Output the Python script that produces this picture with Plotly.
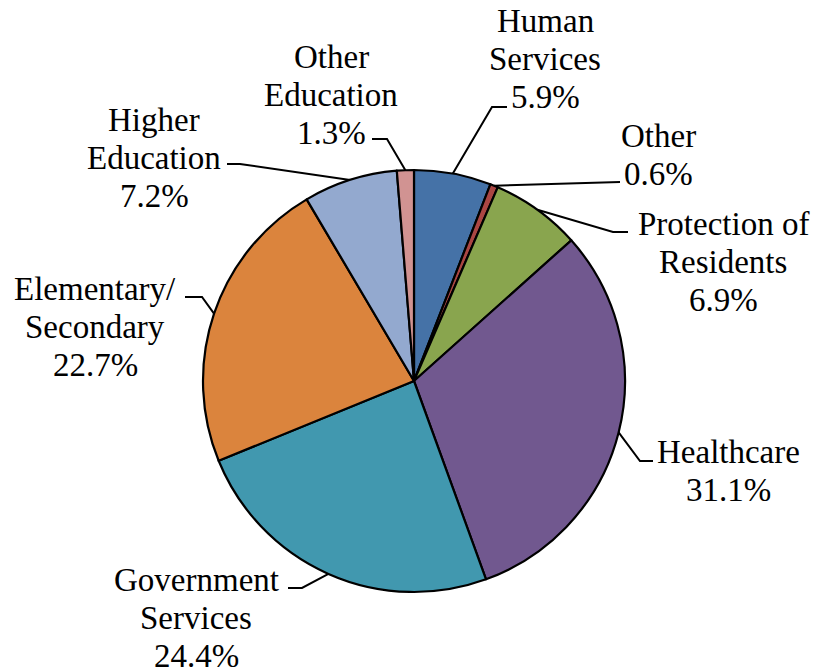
import math
import plotly.graph_objects as go

categories = ["Human Services", "Other", "Protection of Residents", "Healthcare",
              "Government Services", "Elementary/Secondary", "Higher Education", "Other Education"]
values = [5.9, 0.6, 6.9, 31.1, 24.4, 22.7, 7.2, 1.3]
colors = ["#4572A7", "#AA4643", "#89A54E", "#71588F", "#4198AF", "#DB843D", "#93A9CF", "#D19392"]
label_lines = [["Human", "Services"], ["Other"], ["Protection of", "Residents"], ["Healthcare"],
               ["Government", "Services"], ["Elementary/", "Secondary"], ["Higher", "Education"],
               ["Other", "Education"]]

W, H = 830, 671
CX, CY, R = 414, 381, 211

# layout: label block centres, leader elbow and end points (pixel space)
label_pos = [(545, 59), (658, 155), (723, 262), (728, 471), (196, 618), (95, 327), (154, 158), (331, 95)]
elbows = [(492, 107), (606, 182), (613, 232), (640, 461), (302, 588), (202, 297), (240, 164), (387, 139)]
ends = [(507, 107), (620, 182), (628, 232), (653, 461), (288, 588), (185, 297), (227, 164), (372, 139)]

fig = go.Figure()
fig.add_trace(go.Pie(
    labels=categories, values=values, sort=False, direction="clockwise", rotation=0,
    marker=dict(colors=colors, line=dict(color="black", width=2.2)),
    textinfo="none", hoverinfo="label+percent", showlegend=False,
    domain=dict(x=[(CX - R) / W, (CX + R) / W], y=[(H - CY - R) / H, (H - CY + R) / H]),
))

total = sum(values)
cum = 0.0
font = dict(family="Times New Roman, Liberation Serif, DejaVu Serif, serif", size=33, color="black")
annotations = []
for i, v in enumerate(values):
    mid = (cum + v / 2) / total * 2 * math.pi
    cum += v
    sx = CX + R * math.sin(mid)
    sy = CY - R * math.cos(mid)
    ex, ey = elbows[i]
    tx, ty = ends[i]
    fig.add_trace(go.Scatter(x=[sx, ex, tx], y=[sy, ey, ty], mode="lines",
                             line=dict(color="black", width=2), hoverinfo="skip", showlegend=False))
    lines = label_lines[i] + [f"{v:.1f}%"]
    n = len(lines)
    cx, cy = label_pos[i]
    for j, t in enumerate(lines):
        annotations.append(dict(x=cx, y=cy + (j - (n - 1) / 2) * 38, xref="x", yref="y", text=t,
                                showarrow=False, font=font, xanchor="center", yanchor="middle"))

fig.update_layout(
    width=W, height=H, margin=dict(l=0, r=0, t=0, b=0),
    paper_bgcolor="white", plot_bgcolor="rgba(0,0,0,0)",
    font=font,
    xaxis=dict(range=[0, W], visible=False, fixedrange=True),
    yaxis=dict(range=[H, 0], visible=False, fixedrange=True),
    annotations=annotations,
)
fig.write_html("out.html", config={"displayModeBar": False},
               post_script="document.body.style.margin='0';")
